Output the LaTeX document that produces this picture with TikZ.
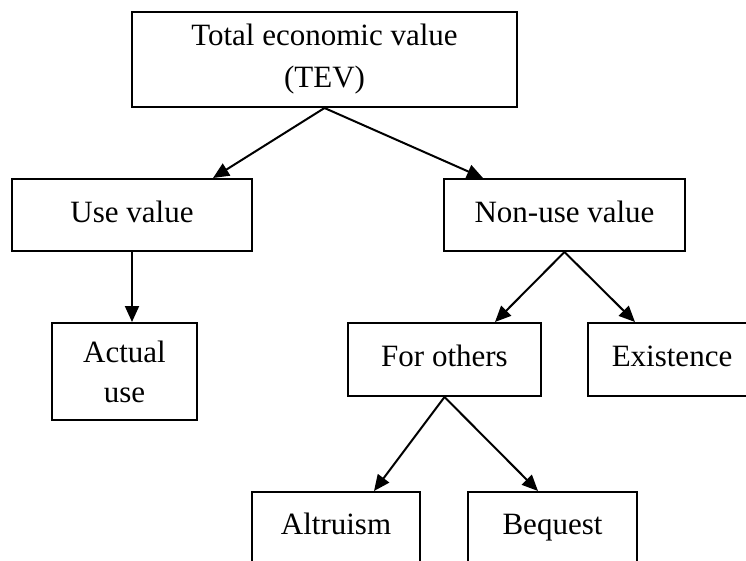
\documentclass[tikz,border=0pt]{standalone}
\usepackage{fontspec}
\setmainfont{Liberation Serif}
\usetikzlibrary{arrows.meta,positioning}

\begin{document}
\begin{tikzpicture}[->,>={Triangle[length=16pt,width=14pt]},x=1pt,y=-1pt,
		line width=2pt]
		\tikzstyle{every node}=[font=\fontsize{31}{40}\selectfont]
		\tikzstyle{box}=[draw=black,fill=white,text=black,align=center,inner sep=0pt]
		\tikzstyle{onebox}=[box,text height=21pt,text depth=7pt]
		
		\useasboundingbox (0,0) rectangle (746,560);
		
		\node[box,minimum width=385pt,minimum height=95pt,font=\fontsize{31}{42}\selectfont] (tev) at (324.5,59.5) {Total economic value\\(TEV)};
		\node[onebox,minimum width=240pt,minimum height=72pt] (use) at (132,215) {Use value};
		\node[onebox,minimum width=241pt,minimum height=72pt] (nonuse) at (564.5,215) {Non-use value};
		\node[box,minimum width=145pt,minimum height=97pt] (actual) at (124.5,371.5) {Actual\\use};
		\node[onebox,minimum width=193pt,minimum height=73pt] (others) at (444.5,359.5) {For others};
		\node[onebox,minimum width=168pt,minimum height=73pt] (exist) at (672,359.5) {Existence};
		\node[onebox,minimum width=168pt,minimum height=70pt] (altru) at (336,527) {Altruism};
		\node[onebox,minimum width=169pt,minimum height=70pt] (beq) at (552.5,527) {Bequest};
		
		
		\path[->]
		(tev.south) edge ([xshift=81pt]use.north)
			edge ([xshift=-81.5pt]nonuse.north);
		\path[->]
		(use.south) edge (use.south |- actual.north);
		\path[->]
		(nonuse.south) edge ([xshift=50.5pt]others.north)
			edge ([xshift=-37pt]exist.north);
		\path[->]
		(others.south) edge ([xshift=38pt]altru.north)
			edge ([xshift=-14.5pt]beq.north);
		\end{tikzpicture}
\end{document}
